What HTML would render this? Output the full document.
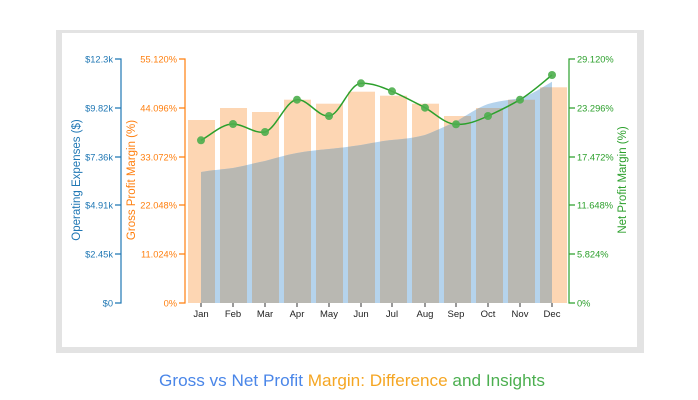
<!DOCTYPE html>
<html><head><meta charset="utf-8"><style>
html,body{margin:0;padding:0;background:#fff;}
svg{display:block;font-family:"Liberation Sans",Arial,sans-serif;}
</style></head><body>
<svg width="698" height="400" viewBox="0 0 698 400" xmlns="http://www.w3.org/2000/svg">
<defs>
<clipPath id="bars">
<rect x="188" y="120" width="27" height="183"/>
<rect x="220" y="108" width="27" height="195"/>
<rect x="252" y="112" width="27" height="191"/>
<rect x="284" y="99.7" width="27" height="203.3"/>
<rect x="316" y="103.7" width="27" height="199.3"/>
<rect x="348" y="91.7" width="27" height="211.3"/>
<rect x="380" y="95.7" width="27" height="207.3"/>
<rect x="412" y="103.7" width="27" height="199.3"/>
<rect x="444" y="116" width="27" height="187"/>
<rect x="476" y="108" width="27" height="195"/>
<rect x="508" y="99.7" width="27" height="203.3"/>
<rect x="540" y="87.3" width="27" height="215.7"/>
</clipPath>
</defs>
<rect x="56" y="30" width="588" height="323" fill="#e3e3e3"/>
<rect x="62" y="33" width="575" height="314" fill="#fff"/>
<g fill="#fdd6b3">
<rect x="188" y="120" width="27" height="183"/>
<rect x="220" y="108" width="27" height="195"/>
<rect x="252" y="112" width="27" height="191"/>
<rect x="284" y="99.7" width="27" height="203.3"/>
<rect x="316" y="103.7" width="27" height="199.3"/>
<rect x="348" y="91.7" width="27" height="211.3"/>
<rect x="380" y="95.7" width="27" height="207.3"/>
<rect x="412" y="103.7" width="27" height="199.3"/>
<rect x="444" y="116" width="27" height="187"/>
<rect x="476" y="108" width="27" height="195"/>
<rect x="508" y="99.7" width="27" height="203.3"/>
<rect x="540" y="87.3" width="27" height="215.7"/>
</g>
<path d="M201,303 L201,172 C212,170 222,169.5 233,168 C244,166 254,163 265,161 C276,158 286,155 297,153 C308,151 318,150 329,149 C340,148 350,146.5 361,145 C372,143 381,141 392,140 C403,139 414,138 425,135 C436,131 445,126 456,121.7 C467,115 477,108 488,104 C499,101 509,100 520,98.3 C531,95 541,88 552,81.7 L552,303 Z" fill="#b5d3ec"/>
<path d="M201,303 L201,172 C212,170 222,169.5 233,168 C244,166 254,163 265,161 C276,158 286,155 297,153 C308,151 318,150 329,149 C340,148 350,146.5 361,145 C372,143 381,141 392,140 C403,139 414,138 425,135 C436,131 445,126 456,121.7 C467,115 477,108 488,104 C499,101 509,100 520,98.3 C531,95 541,88 552,81.7 L552,303 Z" fill="#b9b8b2" clip-path="url(#bars)"/>
<path d="M201,140.3 C212,134 222,124 233,124 C244,124 254,134 265,132 C276,129 286,100 297,99.7 C308,99 318,117 329,116 C340,115 349,84 361,83.3 C372,83 382,87 392,91.3 C403,96 414,102 425,107.7 C436,114 445,124 456,124.3 C467,125 477,121 488,116 C499,111 509,106 520,99.7 C531,93 541,84 552,75" fill="none" stroke="#2ca02c" stroke-width="1.5"/>
<g fill="#4cae4c" fill-opacity="0.9">
<circle cx="201" cy="140.3" r="4"/><circle cx="233" cy="124" r="4"/><circle cx="265" cy="132" r="4"/>
<circle cx="297" cy="99.7" r="4"/><circle cx="329" cy="116" r="4"/><circle cx="361" cy="83.3" r="4"/>
<circle cx="392" cy="91.3" r="4"/><circle cx="425" cy="107.7" r="4"/><circle cx="456" cy="124.3" r="4"/>
<circle cx="488" cy="116" r="4"/><circle cx="520" cy="99.7" r="4"/><circle cx="552" cy="75" r="4"/>
</g>
<g stroke="#1f77b4" fill="none" stroke-width="1.2">
<path d="M115,59H121V303H115"/>
<path d="M115,108H121M115,157H121M115,205H121M115,254H121"/>
</g>
<g fill="#1f77b4" font-size="9.3" text-anchor="end">
<text x="113" y="62.5">$12.3k</text><text x="113" y="111.5">$9.82k</text><text x="113" y="160.5">$7.36k</text>
<text x="113" y="208.5">$4.91k</text><text x="113" y="257.5">$2.45k</text><text x="113" y="306.5">$0</text>
</g>
<text transform="translate(80,180) rotate(-90)" fill="#1f77b4" font-size="11.5" text-anchor="middle">Operating Expenses ($)</text>
<g stroke="#ff7f0e" fill="none" stroke-width="1.2">
<path d="M179,59H185V303H179"/>
<path d="M179,108H185M179,157H185M179,205H185M179,254H185"/>
</g>
<g fill="#ff7f0e" font-size="9.3" text-anchor="end">
<text x="177" y="62.5">55.120%</text><text x="177" y="111.5">44.096%</text><text x="177" y="160.5">33.072%</text>
<text x="177" y="208.5">22.048%</text><text x="177" y="257.5">11.024%</text><text x="177" y="306.5">0%</text>
</g>
<text transform="translate(135,180) rotate(-90)" fill="#ff7f0e" font-size="11.5" text-anchor="middle">Gross Profit Margin (%)</text>
<g stroke="#2ca02c" fill="none" stroke-width="1.2">
<path d="M575,59H569V303H575"/>
<path d="M569,108H575M569,157H575M569,205H575M569,254H575"/>
</g>
<g fill="#2ca02c" font-size="9.3">
<text x="577" y="62.5">29.120%</text><text x="577" y="111.5">23.296%</text><text x="577" y="160.5">17.472%</text>
<text x="577" y="208.5">11.648%</text><text x="577" y="257.5">5.824%</text><text x="577" y="306.5">0%</text>
</g>
<text transform="translate(626,180) rotate(-90)" fill="#2ca02c" font-size="11.5" text-anchor="middle">Net Profit Margin (%)</text>
<g stroke="#333" stroke-width="1">
<path d="M201,303v4M233,303v4M265,303v4M297,303v4M329,303v4M361,303v4M392,303v4M425,303v4M456,303v4M488,303v4M520,303v4M552,303v4"/>
</g>
<g fill="#222" font-size="9.5" text-anchor="middle">
<text x="201" y="317">Jan</text><text x="233" y="317">Feb</text><text x="265" y="317">Mar</text><text x="297" y="317">Apr</text>
<text x="329" y="317">May</text><text x="361" y="317">Jun</text><text x="392" y="317">Jul</text><text x="425" y="317">Aug</text>
<text x="456" y="317">Sep</text><text x="488" y="317">Oct</text><text x="520" y="317">Nov</text><text x="552" y="317">Dec</text>
</g>
<text x="159" y="386" font-size="17" textLength="386" lengthAdjust="spacingAndGlyphs"><tspan fill="#4a86e8">Gross vs Net Profit </tspan><tspan fill="#f5a623">Margin: Difference </tspan><tspan fill="#4caf50">and Insights</tspan></text>
</svg>
</body></html>
